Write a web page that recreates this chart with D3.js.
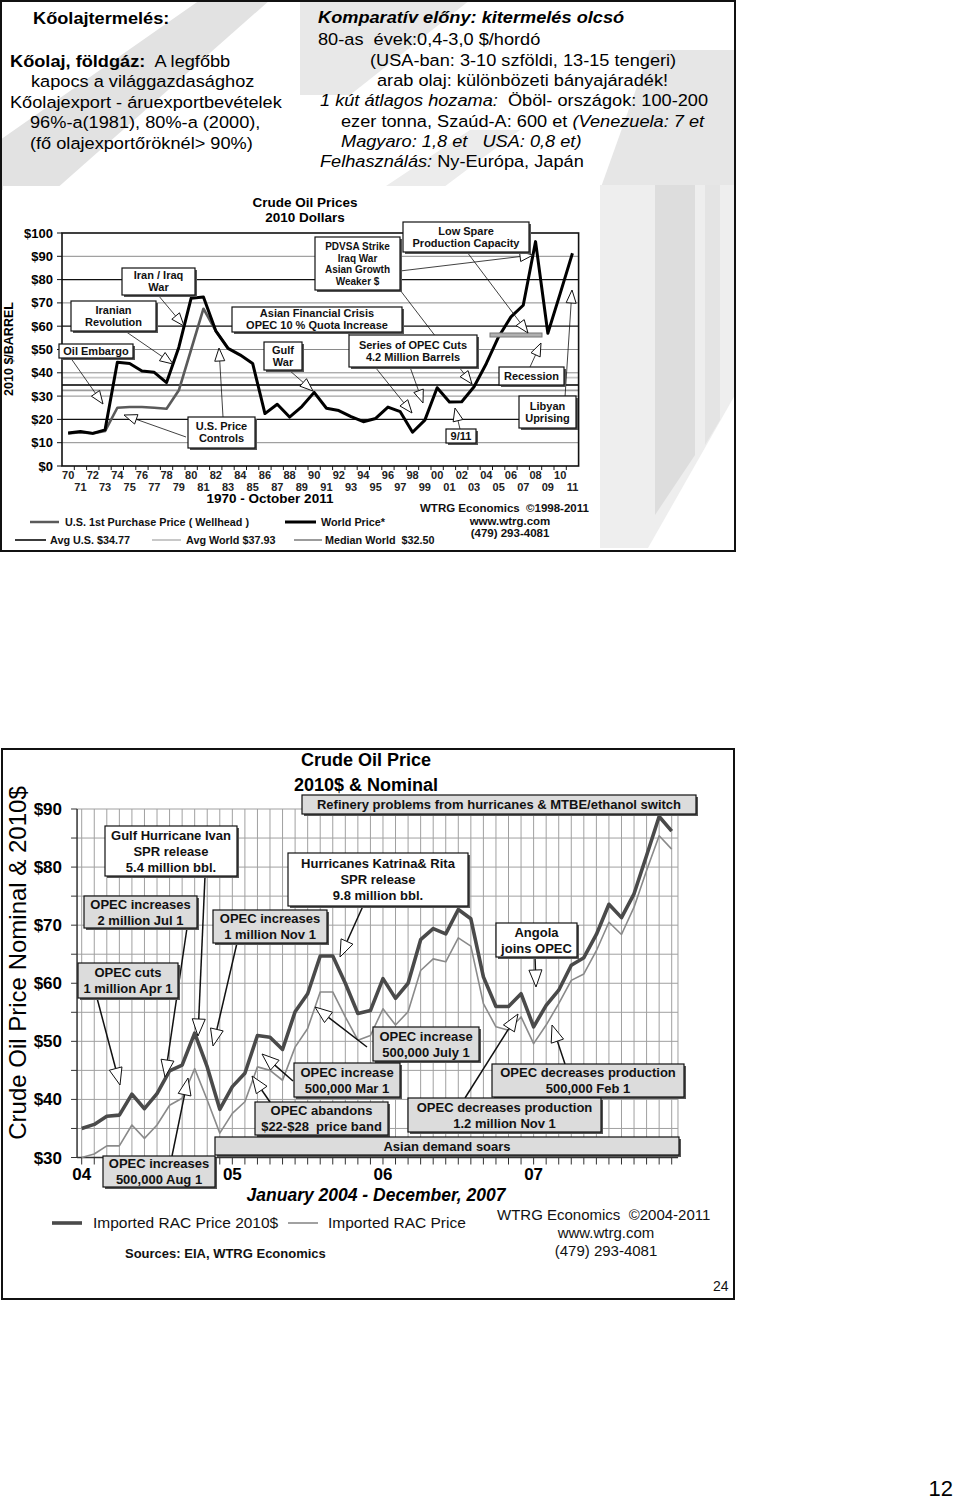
<!DOCTYPE html>
<html><head><meta charset="utf-8">
<script src="https://cdn.jsdelivr.net/npm/d3@7"></script>
<style>
html,body{margin:0;padding:0;background:#fff;}
svg{display:block;font-family:"Liberation Sans",Arial,Helvetica,sans-serif;}
text{white-space:pre;}
</style></head><body>
<svg id="page" width="960" height="1501"></svg>
<script>
// ---------------- DATA ----------------
// Chart 1: Crude Oil Prices, 2010 dollars, 1970 - 2011 (annual)
const years = [1970,1971,1972,1973,1974,1975,1976,1977,1978,1979,1980,1981,1982,1983,1984,1985,1986,1987,1988,1989,1990,
               1991,1992,1993,1994,1995,1996,1997,1998,1999,2000,2001,2002,2003,2004,2005,2006,2007,2008,2009,2010,2011];
const worldPrice = [14.2,14.8,14.0,15.5,44.5,44.0,40.8,40.2,35.8,51.0,72.0,72.5,58.0,50.5,47.6,44.0,22.5,26.5,21.0,25.5,31.6,
                    24.8,23.8,21.2,19.0,20.4,25.3,23.3,14.5,19.7,33.6,27.5,27.6,34.0,44.0,55.5,64.0,69.0,96.3,57.0,74.0,91.3];
const usYears = [1970,1971,1972,1973,1974,1975,1976,1977,1978,1979,1980,1981,1982,1983];
const usWellhead = [14.0,14.5,14.0,15.0,25.0,25.3,25.3,25.0,24.6,32.5,50.0,67.5,58.0,50.5];
const avgNames = ["Avg World","Avg U.S.","Median World"];
const avgValues = [37.93,34.77,32.50];
const yTicks1 = [0,10,20,30,40,50,60,70,80,90,100];

// Chart 2: Imported RAC price, monthly Jan 2004 - Dec 2007
const months2 = ["2004-01","2004-02","2004-03","2004-04","2004-05","2004-06","2004-07","2004-08","2004-09","2004-10","2004-11","2004-12",
                 "2005-01","2005-02","2005-03","2005-04","2005-05","2005-06","2005-07","2005-08","2005-09","2005-10","2005-11","2005-12",
                 "2006-01","2006-02","2006-03","2006-04","2006-05","2006-06","2006-07","2006-08","2006-09","2006-10","2006-11","2006-12",
                 "2007-01","2007-02","2007-03","2007-04","2007-05","2007-06","2007-07","2007-08","2007-09","2007-10","2007-11","2007-12"];
const rac2010 = [35.0,35.7,37.1,37.3,40.9,38.4,41.0,44.9,45.9,51.4,45.6,38.3,
                 42.2,44.5,51.0,50.7,48.6,55.1,58.2,64.7,64.7,60.0,54.8,55.3,
                 60.8,57.4,60.0,67.5,69.4,68.5,72.7,71.1,61.1,56.0,56.0,58.2,
                 52.5,56.2,58.8,63.1,64.4,68.4,73.6,71.3,75.4,82.0,88.7,86.2];
const racNominal = [30.0,30.6,32.0,32.0,35.6,33.3,35.6,39.0,40.2,45.3,39.9,34.2,
                    37.6,39.6,45.6,45.0,43.3,49.0,52.2,58.5,58.5,54.2,50.2,51.0,
                    55.6,52.8,55.1,62.2,64.2,63.7,67.8,66.4,56.5,52.5,51.9,54.2,
                    49.6,52.8,56.5,60.5,61.6,65.6,70.5,68.4,73.1,79.4,85.4,83.1];
const yTicks2 = [30,35,40,45,50,55,60,65,70,75,80,85,90];
const yearLabels2 = ["04","05","06","07"];

// ---------------- DRAW ----------------
const svg = d3.select("#page");

function arrow(g, x1, y1, x2, y2, L, W, lw) {
  const dx = x2 - x1, dy = y2 - y1, d = Math.hypot(dx, dy), ux = dx / d, uy = dy / d;
  const bx = x2 - ux * L, by = y2 - uy * L;
  g.append("line").attr("x1", x1).attr("y1", y1).attr("x2", bx).attr("y2", by)
    .attr("stroke", "#111").attr("stroke-width", lw);
  g.append("path")
    .attr("d", `M${x2},${y2}L${bx - uy * W / 2},${by + ux * W / 2}L${bx + uy * W / 2},${by - ux * W / 2}Z`)
    .attr("fill", "#fff").attr("stroke", "#111").attr("stroke-width", 1);
}
function box(g, b, fs, lh, fill) {
  const [x0, y0, x1, y1] = b.r;
  g.append("rect").attr("x", x0 + 2).attr("y", y0 + 2).attr("width", x1 - x0).attr("height", y1 - y0).attr("fill", "#555");
  g.append("rect").attr("x", x0).attr("y", y0).attr("width", x1 - x0).attr("height", y1 - y0)
    .attr("fill", b.fill || fill).attr("stroke", "#111").attr("stroke-width", 1.2);
  const cy = (y0 + y1) / 2, cx = (x0 + x1) / 2, n = b.t.length;
  b.t.forEach((s, k) => {
    g.append("text").attr("x", cx).attr("y", cy - (n - 1) * lh / 2 + k * lh + fs * 0.36)
      .attr("text-anchor", "middle").attr("font-size", (b.fs || fs) + "px").attr("font-weight", "bold").attr("fill", "#111").text(s);
  });
}

// ===== Top panel =====
svg.append("rect").attr("x", 1).attr("y", 1).attr("width", 734).attr("height", 550)
  .attr("fill", "#fff").attr("stroke", "none");
const deco = svg.append("g");
[
  {p: [[0,140],[0,190],[55,190],[270,0],[200,0]], f: "#e2e2e2"},
  {p: [[300,0],[470,0],[350,95],[300,95]], f: "#e8e8e8"},
  {p: [[650,50],[735,50],[735,190],[600,190]], f: "#e6e6e6"},
  {p: [[380,190],[470,130],[520,130],[440,190]], f: "#ececec"},
  {p: [[600,185],[735,185],[735,395],[648,548],[600,548]], f: "#eeeeee"},
  {p: [[655,185],[695,185],[695,455],[655,515]], f: "#dddddd"},
  {p: [[705,185],[720,185],[720,420],[705,445]], f: "#e4e4e4"}
].forEach(o => deco.append("path").attr("d", d3.line()(o.p) + "Z").attr("fill", o.f));
svg.append("rect").attr("x", 3).attr("y", 186).attr("width", 596).attr("height", 363).attr("fill", "#fff");
svg.append("rect").attr("x", 1).attr("y", 1).attr("width", 734).attr("height", 550)
  .attr("fill", "none").attr("stroke", "#111").attr("stroke-width", 2);

// top texts
const tx = svg.append("g").attr("font-size", "17px").attr("fill", "#000");
function tline(x, y, parts, sx) {
  const t = tx.append("text").attr("transform", `translate(${x},${y}) scale(${sx || 1.07},1)`);
  parts.forEach(p => t.append("tspan").attr("font-weight", p.b ? "bold" : "normal")
    .attr("font-style", p.i ? "italic" : "normal").text(p.s));
}
tline(33, 24, [{s: "Kőolajtermelés:", b: 1}]);
tline(10, 67, [{s: "Kőolaj, földgáz:", b: 1}, {s: "  A legfőbb"}]);
tline(31, 87, [{s: "kapocs a világgazdasághoz"}]);
tline(10, 108, [{s: "Kőolajexport - áruexportbevételek"}]);
tline(30, 128, [{s: "96%-a(1981), 80%-a (2000),"}]);
tline(30, 149, [{s: "(fő olajexportőröknél> 90%)"}]);
tline(318, 23, [{s: "Komparatív előny: kitermelés olcsó", b: 1, i: 1}]);
tline(318, 45, [{s: "80-as  évek:0,4-3,0 $/hordó"}]);
tline(370, 66, [{s: "(USA-ban: 3-10 szföldi, 13-15 tengeri)"}]);
tline(377, 86, [{s: "arab olaj: különbözeti bányajáradék!"}]);
tline(320, 106, [{s: "1 kút átlagos hozama:", i: 1}, {s: "  Öböl- országok: 100-200"}]);
tline(341, 127, [{s: "ezer tonna, Szaúd-A: 600 et "}, {s: "(Venezuela: 7 et", i: 1}]);
tline(341, 147, [{s: "Magyaro: 1,8 et   USA: 0,8 et)", i: 1}]);
tline(320, 167, [{s: "Felhasználás:", i: 1}, {s: " Ny-Európa, Japán"}]);

// ===== Chart 1 =====
const c1 = {left: 62, right: 578.6, top: 233, bottom: 466};
const x1 = d3.scaleLinear().domain([1969.5, 2011.5]).range([c1.left, c1.right]);
const y1 = d3.scaleLinear().domain([0, 100]).range([c1.bottom, c1.top]);
const g1 = svg.append("g");
g1.append("text").attr("x", 305).attr("y", 207).attr("text-anchor", "middle").attr("font-size", "13.5px").attr("font-weight", "bold").text("Crude Oil Prices");
g1.append("text").attr("x", 305).attr("y", 222).attr("text-anchor", "middle").attr("font-size", "13.5px").attr("font-weight", "bold").text("2010 Dollars");
const heavy = [20, 60, 80];
yTicks1.filter(v => v > 0 && v < 100).forEach(v => {
  g1.append("line").attr("x1", c1.left).attr("x2", c1.right).attr("y1", y1(v)).attr("y2", y1(v))
    .attr("stroke", heavy.includes(v) ? "#111" : "#8a8a8a").attr("stroke-width", heavy.includes(v) ? 1.3 : 1);
});
const avgColor = {"Avg World": "#c8c8c8", "Avg U.S.": "#3c3c3c", "Median World": "#9c9c9c"};
avgNames.forEach((n, i) => {
  g1.append("line").attr("x1", c1.left).attr("x2", c1.right).attr("y1", y1(avgValues[i])).attr("y2", y1(avgValues[i]))
    .attr("stroke", avgColor[n]).attr("stroke-width", 1.8);
});
yTicks1.forEach(v => {
  g1.append("line").attr("x1", c1.left - 5).attr("x2", c1.left).attr("y1", y1(v)).attr("y2", y1(v)).attr("stroke", "#111");
  g1.append("text").attr("x", 53).attr("y", y1(v) + 4.5).attr("text-anchor", "end").attr("font-size", "13px")
    .attr("font-weight", "bold").text("$" + v);
});
years.forEach((yr, i) => {
  if (i > 0) g1.append("line").attr("x1", x1(yr - 0.5)).attr("x2", x1(yr - 0.5)).attr("y1", c1.bottom).attr("y2", c1.bottom + 4).attr("stroke", "#111");
  g1.append("text").attr("x", x1(yr)).attr("y", yr % 2 === 0 ? 479 : 491).attr("text-anchor", "middle")
    .attr("font-size", "11px").attr("font-weight", "bold").attr("fill", "#222").text(String(yr).slice(2));
});
g1.append("text").attr("transform", "translate(13,349) rotate(-90)").attr("text-anchor", "middle")
  .attr("font-size", "12.5px").attr("font-weight", "bold").text("2010 $/BARREL");
g1.append("text").attr("x", 270).attr("y", 503).attr("text-anchor", "middle").attr("font-size", "13.5px").attr("font-weight", "bold").text("1970 - October 2011");

const line1 = d3.line().x(d => x1(d[0])).y(d => y1(d[1]));
g1.append("path").attr("d", line1(usYears.map((y, i) => [y, usWellhead[i]]))).attr("fill", "none")
  .attr("stroke", "#5a5a5a").attr("stroke-width", 2.6).attr("stroke-linejoin", "round");
g1.append("path").attr("d", line1(years.map((y, i) => [y, worldPrice[i]]))).attr("fill", "none")
  .attr("stroke", "#000").attr("stroke-width", 3).attr("stroke-linejoin", "round");
g1.append("rect").attr("x", c1.left).attr("y", c1.top).attr("width", c1.right - c1.left).attr("height", c1.bottom - c1.top)
  .attr("fill", "none").attr("stroke", "#111").attr("stroke-width", 1.6);

// annotations chart 1
g1.append("rect").attr("x", 490).attr("y", 333).attr("width", 52).attr("height", 4).attr("fill", "#b0b0b0").attr("stroke", "#777");
const a1 = [
  [70,357,103,404],[125,331,173,364],[158,295,184,326],[223,417,219,348],[186,437,124,415],[289,370,313,391],
  [347,332,412,413],[410,367,423,403],[400,271,533,255],[400,290,472,384],[467,252,528,333],[530,367,541,343],
  [565,397,572,290],[460,429,455,408]
];
a1.forEach(a => arrow(g1, a[0], a[1], a[2], a[3], 13, 10, 0.8));
const b1 = [
  {r: [122,268,195,295], t: ["Iran / Iraq", "War"]},
  {r: [71,301,156,331], t: ["Iranian", "Revolution"]},
  {r: [59,344,133,358], t: ["Oil Embargo"]},
  {r: [264,342,302,370], t: ["Gulf", "War"]},
  {r: [188,417,255,448], t: ["U.S. Price", "Controls"]},
  {r: [232,307,402,332], t: ["Asian Financial Crisis", "OPEC 10 % Quota Increase"]},
  {r: [315,237,400,290], t: ["PDVSA Strike", "Iraq War", "Asian Growth", "Weaker $"], fs: 10},
  {r: [403,222,529,252], t: ["Low Spare", "Production Capacity"]},
  {r: [349,335,477,367], t: ["Series of OPEC Cuts", "4.2 Million Barrels"]},
  {r: [499,367,564,385], t: ["Recession"]},
  {r: [519,396,576,428], t: ["Libyan", "Uprising"]},
  {r: [446,429,476,443], t: ["9/11"]}
];
b1.forEach(b => {
  const lh = b.t.length === 4 ? 11.5 : 12;
  box(g1, b, 11, lh, "#fff");
});
// legend chart 1
const lg1 = svg.append("g").attr("font-size", "10.8px").attr("font-weight", "bold").attr("fill", "#111");
lg1.append("line").attr("x1", 30).attr("x2", 59).attr("y1", 522).attr("y2", 522).attr("stroke", "#5a5a5a").attr("stroke-width", 2.5);
lg1.append("text").attr("x", 65).attr("y", 526).text("U.S. 1st Purchase Price ( Wellhead )");
lg1.append("line").attr("x1", 285).attr("x2", 316).attr("y1", 522).attr("y2", 522).attr("stroke", "#000").attr("stroke-width", 3);
lg1.append("text").attr("x", 321).attr("y", 526).text("World Price*");
const legAvgX = {"Avg U.S.": [15, 46, 50], "Avg World": [152, 181, 186], "Median World": [294, 322, 325]};
const legAvgTxt = {"Avg U.S.": "Avg U.S. $34.77", "Avg World": "Avg World $37.93", "Median World": "Median World  $32.50"};
["Avg U.S.", "Avg World", "Median World"].forEach(n => {
  const p = legAvgX[n];
  lg1.append("line").attr("x1", p[0]).attr("x2", p[1]).attr("y1", 540).attr("y2", 540).attr("stroke", avgColor[n]).attr("stroke-width", 2);
  lg1.append("text").attr("x", p[2]).attr("y", 544).text(legAvgTxt[n]);
});
lg1.append("text").attr("x", 420).attr("y", 512).attr("font-size", "11.5px").text("WTRG Economics  ©1998-2011");
lg1.append("text").attr("x", 510).attr("y", 525).attr("font-size", "11.5px").attr("text-anchor", "middle").text("www.wtrg.com");
lg1.append("text").attr("x", 510).attr("y", 537).attr("font-size", "11.5px").attr("text-anchor", "middle").text("(479) 293-4081");

// ===== Bottom panel / Chart 2 =====
svg.append("rect").attr("x", 2).attr("y", 749).attr("width", 732).attr("height", 550)
  .attr("fill", "#fff").attr("stroke", "#111").attr("stroke-width", 2);
const g2 = svg.append("g");
const x2 = d3.scaleLinear().domain([0, 47]).range([81.7, 671.7]);
const y2 = d3.scaleLinear().domain([30, 90]).range([1157.5, 809]);
const pl = x2(-0.37), pr = x2(47.5);
g2.append("text").attr("x", 366).attr("y", 766).attr("text-anchor", "middle").attr("font-size", "18px").attr("font-weight", "bold").text("Crude Oil Price");
g2.append("text").attr("x", 366).attr("y", 791).attr("text-anchor", "middle").attr("font-size", "18px").attr("font-weight", "bold").text("2010$ & Nominal");
months2.forEach((m, i) => {
  g2.append("line").attr("x1", x2(i)).attr("x2", x2(i)).attr("y1", y2(90)).attr("y2", y2(30)).attr("stroke", "#a0a0a0").attr("stroke-width", 1);
  g2.append("line").attr("x1", x2(i)).attr("x2", x2(i)).attr("y1", y2(30)).attr("y2", y2(30) + 7).attr("stroke", "#333").attr("stroke-width", 1);
});
yTicks2.forEach(v => {
  g2.append("line").attr("x1", pl).attr("x2", pr).attr("y1", y2(v)).attr("y2", y2(v)).attr("stroke", "#a0a0a0").attr("stroke-width", 1);
  g2.append("line").attr("x1", pl - 6).attr("x2", pl).attr("y1", y2(v)).attr("y2", y2(v)).attr("stroke", "#333");
  if (v % 10 === 0) g2.append("text").attr("x", 62).attr("y", y2(v) + 6).attr("text-anchor", "end")
    .attr("font-size", "17px").attr("font-weight", "bold").text("$" + v);
});
g2.append("line").attr("x1", pr).attr("x2", pr).attr("y1", y2(90)).attr("y2", y2(30)).attr("stroke", "#a0a0a0");
g2.append("line").attr("x1", pl).attr("x2", pl).attr("y1", y2(90)).attr("y2", y2(30)).attr("stroke", "#333").attr("stroke-width", 1.5);
g2.append("line").attr("x1", pl).attr("x2", pr).attr("y1", y2(30)).attr("y2", y2(30)).attr("stroke", "#333").attr("stroke-width", 1.5);
yearLabels2.forEach((s, k) => {
  g2.append("text").attr("x", x2(k * 12)).attr("y", 1180).attr("text-anchor", "middle").attr("font-size", "17px").attr("font-weight", "bold").text(s);
});
g2.append("text").attr("transform", "translate(26,963) rotate(-90)").attr("text-anchor", "middle").attr("font-size", "24px").text("Crude Oil Price Nominal & 2010$");
g2.append("text").attr("x", 376).attr("y", 1201).attr("text-anchor", "middle").attr("font-size", "17.5px")
  .attr("font-weight", "bold").attr("font-style", "italic").text("January 2004 - December, 2007");

const line2 = d3.line().x((d, i) => x2(i)).y(d => y2(d));
g2.append("path").attr("d", line2(racNominal)).attr("fill", "none").attr("stroke", "#8a8a8a").attr("stroke-width", 1.6).attr("stroke-linejoin", "round");
g2.append("path").attr("d", line2(rac2010)).attr("fill", "none").attr("stroke", "#4a4a4a").attr("stroke-width", 3.6).attr("stroke-linejoin", "round");

const a2 = [
  [97,998,120,1085],[187,928,165,1077],[205,876,198,1036],[237,943,213,1046],[172,1156,188,1078],[363,906,340,957],
  [293,1081,262,1054],[270,1102,252,1076],[367,1047,315,1007],[465,1098,518,1014],[535,957,536,987],[565,1064,552,1025]
];
a2.forEach(a => arrow(g2, a[0], a[1], a[2], a[3], 17, 13, 1.5));
const b2 = [
  {r: [302,795,696,814], t: ["Refinery problems from hurricanes & MTBE/ethanol switch"]},
  {r: [105,826,237,876], t: ["Gulf Hurricane Ivan", "SPR release", "5.4 million bbl."], fill: "#fff"},
  {r: [84,896,197,928], t: ["OPEC increases", "2 million Jul 1"]},
  {r: [213,910,327,943], t: ["OPEC increases", "1 million Nov 1"]},
  {r: [78,963,178,998], t: ["OPEC cuts", "1 million Apr 1"]},
  {r: [288,853,468,906], t: ["Hurricanes Katrina& Rita", "SPR release", "9.8 million bbl."], fill: "#fff"},
  {r: [496,923,577,957], t: ["Angola", "joins OPEC"], fill: "#fff"},
  {r: [373,1027,479,1061], t: ["OPEC increase", "500,000 July 1"]},
  {r: [294,1063,400,1097], t: ["OPEC increase", "500,000 Mar 1"]},
  {r: [255,1102,388,1135], t: ["OPEC abandons", "$22-$28  price band"]},
  {r: [492,1064,684,1097], t: ["OPEC decreases production", "500,000 Feb 1"]},
  {r: [408,1098,601,1132], t: ["OPEC decreases production", "1.2 million Nov 1"]},
  {r: [215,1137,679,1155], t: ["Asian demand soars"]},
  {r: [103,1156,215,1187], t: ["OPEC increases", "500,000 Aug 1"]}
];
b2.forEach(b => box(g2, b, 13, 16, "#dcdcdc"));

// legend chart 2
const lg2 = svg.append("g").attr("fill", "#111");
lg2.append("line").attr("x1", 52).attr("x2", 82).attr("y1", 1223).attr("y2", 1223).attr("stroke", "#4a4a4a").attr("stroke-width", 3.6);
lg2.append("text").attr("x", 93).attr("y", 1228).attr("font-size", "15.5px").text("Imported RAC Price 2010$");
lg2.append("line").attr("x1", 288).attr("x2", 318).attr("y1", 1223).attr("y2", 1223).attr("stroke", "#8a8a8a").attr("stroke-width", 1.6);
lg2.append("text").attr("x", 328).attr("y", 1228).attr("font-size", "15.5px").text("Imported RAC Price");
lg2.append("text").attr("x", 125).attr("y", 1258).attr("font-size", "13px").attr("font-weight", "bold").text("Sources: EIA, WTRG Economics");
lg2.append("text").attr("x", 497).attr("y", 1220).attr("font-size", "15px").text("WTRG Economics  ©2004-2011");
lg2.append("text").attr("x", 606).attr("y", 1238).attr("font-size", "15px").attr("text-anchor", "middle").text("www.wtrg.com");
lg2.append("text").attr("x", 606).attr("y", 1256).attr("font-size", "15px").attr("text-anchor", "middle").text("(479) 293-4081");
lg2.append("text").attr("x", 713).attr("y", 1291).attr("font-size", "14px").text("24");

// page number
svg.append("text").attr("x", 953).attr("y", 1496).attr("text-anchor", "end").attr("font-size", "22px").text("12");
</script>
</body></html>
